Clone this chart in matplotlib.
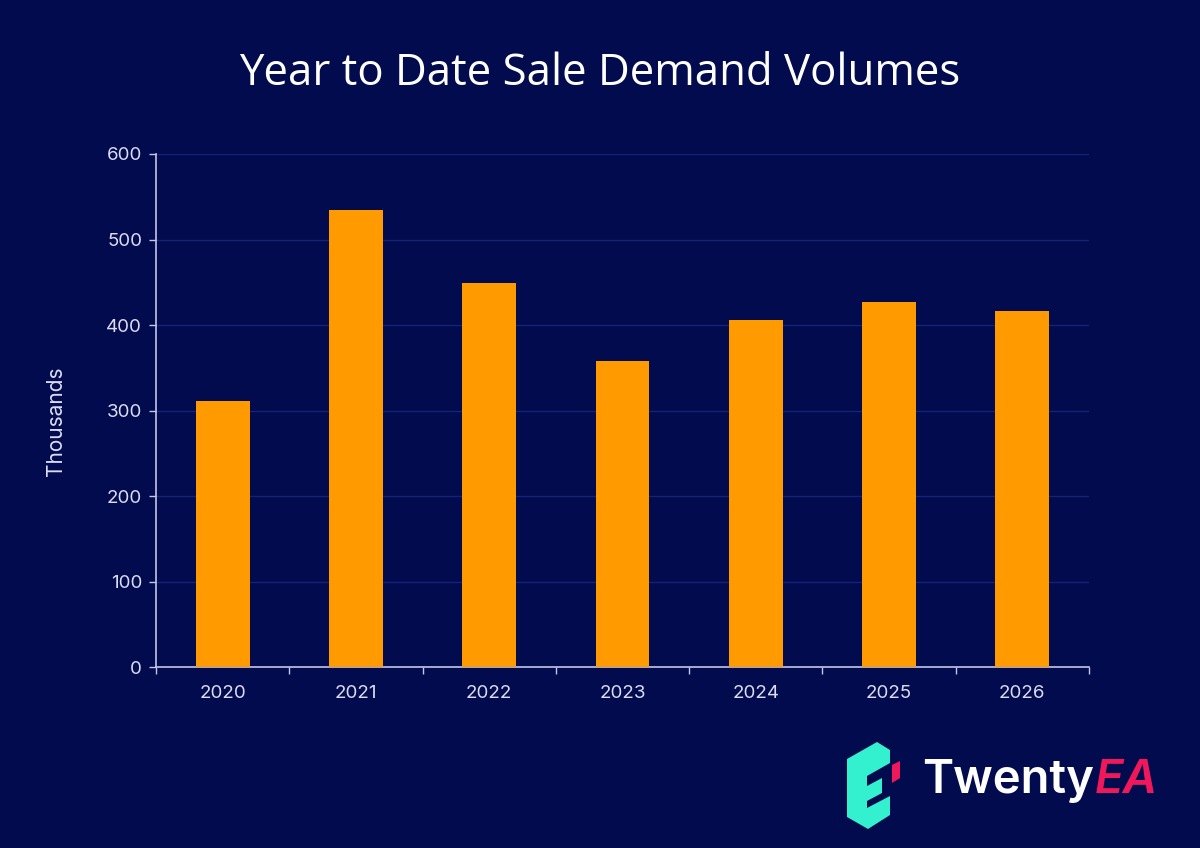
import matplotlib
matplotlib.use("Agg")
from matplotlib import pyplot as plt
from matplotlib.patches import Polygon

# Year to date sale demand volumes (thousands)
years = ["2020", "2021", "2022", "2023", "2024", "2025", "2026"]
volumes = [311, 534, 449, 358, 406, 427, 416]
y_ticks = [0, 100, 200, 300, 400, 500, 600]

bg = "#020b4e"
bar_color = "#ff9a00"
axis_color = "#c3c6e8"
label_color = "#dcdcf2"

fig = plt.figure(figsize=(12, 8.48), dpi=100, facecolor=bg)
ax = fig.add_axes([0.13, 0.2134, 0.7775, 0.605], facecolor=bg)

x = list(range(len(years)))
ax.bar(x, volumes, width=0.405, color=bar_color, zorder=3)

ax.set_xlim(-0.5, len(years) - 0.5)
ax.set_ylim(0, 600)
ax.set_yticks(y_ticks)
ax.set_xticks(x)
ax.set_xticklabels(years)
# ticks sit between the categories
ax.set_xticks([i - 0.5 for i in range(len(years) + 1)], minor=True)
ax.tick_params(axis="x", which="major", length=0, pad=13)
ax.tick_params(axis="x", which="minor", length=5, width=1, color=axis_color)
ax.tick_params(axis="y", length=5, width=1, color=axis_color, pad=5)
for lbl in ax.get_xticklabels() + ax.get_yticklabels():
    lbl.set_fontfamily("Inter")
    lbl.set_fontsize(13.5)
    lbl.set_color(label_color)

ax.grid(axis="y", color="#15217a", linewidth=1, zorder=0)
for side in ["top", "right"]:
    ax.spines[side].set_visible(False)
for side in ["left", "bottom"]:
    ax.spines[side].set_color(axis_color)
    ax.spines[side].set_linewidth(1.2)

ax.set_ylabel("Thousands", fontfamily="Inter", fontsize=15, color=label_color)
ax.yaxis.set_label_coords(-0.096, 0.48)

fig.text(0.5, 1 - 74 / 848, "Year to Date Sale Demand Volumes", ha="center", va="center",
         fontfamily="Open Sans", fontsize=31.5, color="white")

# logo (rough shape in figure pixels)
W, H = 1200, 848
def px(pts):
    return [(a / W, 1 - b / H) for a, b in pts]

teal = "#33f0cf"
icon = [(847, 759), (877, 742), (890, 750), (890, 763), (867, 776), (867, 786),
        (882, 778), (882, 793), (867, 801), (867, 808), (890, 796), (890, 815),
        (868, 829), (847, 817)]
fig.patches.append(Polygon(px(icon), closed=True, transform=fig.transFigure,
                           facecolor=teal, edgecolor="none"))
fig.patches.append(Polygon(px([(892, 765), (900, 761), (900, 778), (892, 783)]), closed=True,
                           transform=fig.transFigure, facecolor="#f0185a", edgecolor="none"))
t1 = fig.text(922 / W, 1 - 793 / H, "Twenty", ha="left", va="baseline",
              fontfamily="Inter", fontweight="semibold", fontsize=34, color="white")
fig.canvas.draw()
bb = t1.get_window_extent()
fig.text(bb.x1 / W + 0.001, 1 - 793 / H, "EA", ha="left", va="baseline",
         fontfamily="Inter", fontweight="semibold", fontstyle="italic", fontsize=34, color="#f0185a")

fig.savefig("out.png", dpi=100, facecolor=bg)
